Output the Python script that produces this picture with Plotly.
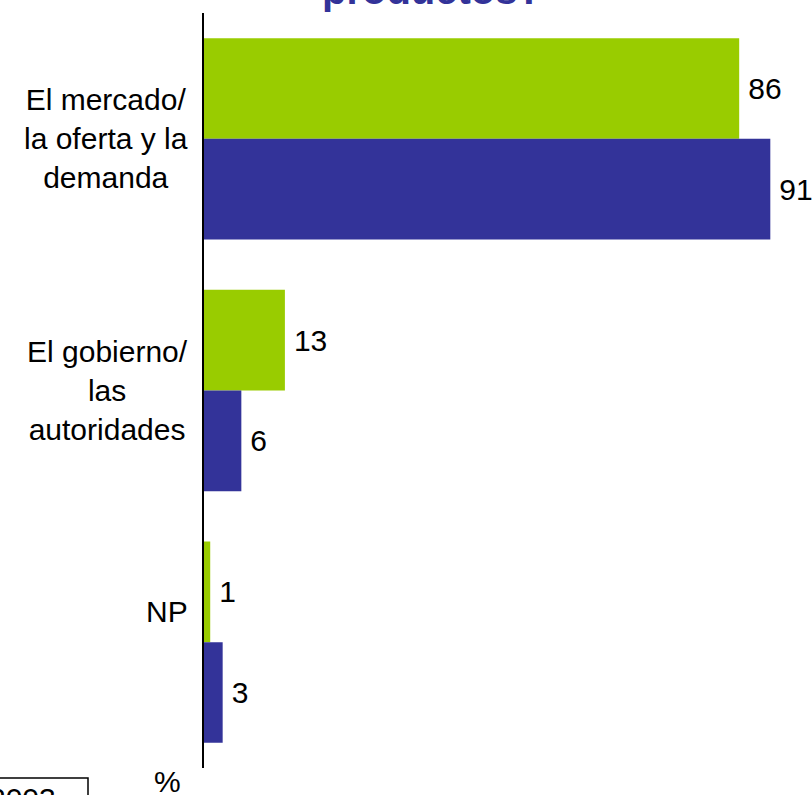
import plotly.graph_objects as go

categories = ["El mercado/<br>la oferta y la<br>demanda", "El gobierno/<br>las<br>autoridades", "NP"]
series_green = [86, 13, 1]
series_blue = [91, 6, 3]
green_name = "Serie 1"
blue_name = "Serie 2"
title_text = "productos?"
box_text = "2003"
unit_text = "%"

GREEN = "#99CC00"
BLUE = "#333399"
FONT = "Liberation Sans, Arial, sans-serif"

W, H = 812, 795
ML, MR, MT, MB = 204, 0, 13, 27
PW = W - ML - MR
PH = H - MT - MB


def px_to_paper_x(px):
    return (px - ML) / PW


def px_to_paper_y(py):
    return (H - MB - py) / PH


fig = go.Figure()
fig.add_trace(go.Bar(
    y=categories, x=series_green, orientation="h", name=green_name,
    marker=dict(color=GREEN, line=dict(width=0)),
    text=[f"\u2009{v}" for v in series_green], textposition="outside",
    textfont=dict(size=30, color="black", family=FONT),
    cliponaxis=False,
))
fig.add_trace(go.Bar(
    y=categories, x=series_blue, orientation="h", name=blue_name,
    marker=dict(color=BLUE, line=dict(width=0)),
    text=[f"\u2009{v}" for v in series_blue], textposition="outside",
    textfont=dict(size=30, color="black", family=FONT),
    cliponaxis=False,
))

annotations = []
label_shift = [0, 0, 31]
for cat, ys in zip(categories, label_shift):
    annotations.append(dict(
        x=0, xref="paper", y=cat, yref="y", text=cat, showarrow=False,
        xanchor="right", yanchor="middle", align="center", xshift=-14, yshift=ys,
        font=dict(size=30, color="black", family=FONT),
    ))

annotations.append(dict(
    x=px_to_paper_x(432), xref="paper", y=1, yref="paper", text=f"<b>{title_text}</b>",
    showarrow=False, xanchor="center", yanchor="bottom", yshift=-1,
    font=dict(size=40, color=BLUE, family=FONT),
))
annotations.append(dict(
    x=px_to_paper_x(167), xref="paper", y=px_to_paper_y(763), yref="paper", text=unit_text,
    showarrow=False, xanchor="center", yanchor="top",
    font=dict(size=30, color="black", family=FONT),
))
annotations.append(dict(
    x=px_to_paper_x(58), xref="paper", y=px_to_paper_y(780), yref="paper", text=box_text,
    showarrow=False, xanchor="right", yanchor="top",
    font=dict(size=30, color="black", family=FONT),
))

fig.add_shape(type="rect", xref="paper", yref="paper",
              x0=px_to_paper_x(-10), x1=px_to_paper_x(88),
              y0=px_to_paper_y(830), y1=px_to_paper_y(778),
              line=dict(color="black", width=1.5), fillcolor="rgba(0,0,0,0)")

fig.update_layout(
    width=W, height=H,
    margin=dict(l=ML, r=MR, t=MT, b=MB, pad=0),
    paper_bgcolor="white", plot_bgcolor="white",
    barmode="group", bargap=0.2, bargroupgap=0,
    showlegend=False,
    annotations=annotations,
    font=dict(family=FONT, size=30, color="black"),
    xaxis=dict(visible=False, range=[0, 97.7], fixedrange=True),
    yaxis=dict(autorange="reversed", showticklabels=False, ticks="", showgrid=False,
               zeroline=False, showline=True, linecolor="black", linewidth=2),
)

fig.write_html("out.html", config={"displayModeBar": False},
               post_script="document.body.style.margin='0';document.body.style.padding='0';")
